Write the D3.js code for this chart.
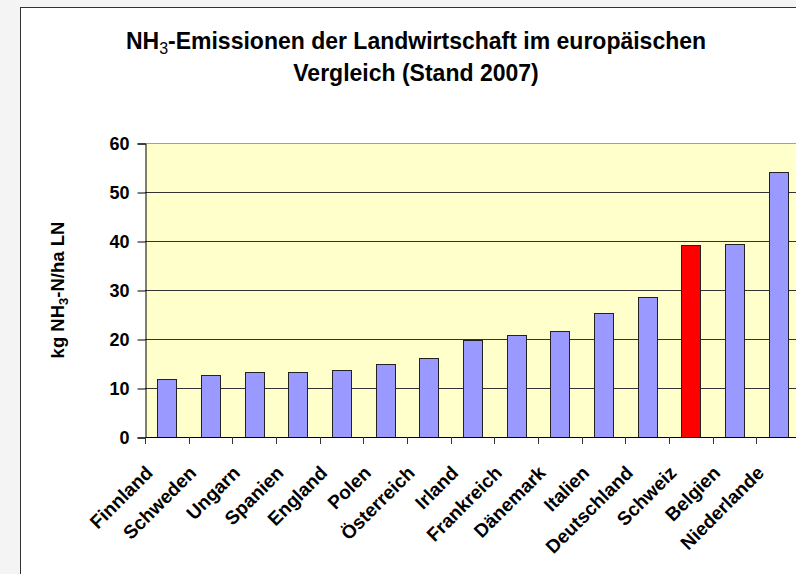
<!DOCTYPE html>
<html>
<head>
<meta charset="utf-8">
<script src="https://cdn.jsdelivr.net/npm/d3@7"></script>
<style>
  body { margin: 0; background: #f4f4f4; overflow: hidden; }
  text { font-family: "Liberation Sans", Arial, sans-serif; font-weight: bold; fill: #000; }
</style>
</head>
<body>
<script>
// Data (kg NH3-N per ha LN, 2007)
var countries = ["Finnland", "Schweden", "Ungarn", "Spanien", "England", "Polen", "Österreich",
  "Irland", "Frankreich", "Dänemark", "Italien", "Deutschland", "Schweiz", "Belgien", "Niederlande"];
var emissions = [11.8, 12.6, 13.3, 13.3, 13.7, 14.8, 16.1, 19.7, 20.8, 21.7, 25.4, 28.6, 39.2, 39.4, 54.0];
var highlight = "Schweiz";
var yTicks = [0, 10, 20, 30, 40, 50, 60];

var W = 796, H = 574;
var plot = {left: 145, top: 143, right: 800, bottom: 437};

var svg = d3.select("body").append("svg")
  .attr("width", W)
  .attr("height", H);

// chart frame
svg.append("rect")
  .attr("x", 20.5).attr("y", 7.5)
  .attr("width", W).attr("height", H)
  .attr("fill", "#fff")
  .attr("stroke", "#333");

// Set the ranges
var x = d3.scaleBand().domain(countries).range([plot.left, plot.right]).padding(0);
var y = d3.scaleLinear().domain([0, 60]).range([plot.bottom, plot.top]);

// plot background
svg.append("rect")
  .attr("x", plot.left).attr("y", plot.top)
  .attr("width", plot.right - plot.left).attr("height", plot.bottom - plot.top)
  .attr("fill", "#ffffcc");

// grid lines
svg.append("g").selectAll("line")
  .data(yTicks.filter(function(d) { return d > 0; }))
  .join("line")
  .attr("x1", plot.left).attr("x2", plot.right)
  .attr("y1", function(d) { return Math.round(y(d)) + 0.5; })
  .attr("y2", function(d) { return Math.round(y(d)) + 0.5; })
  .attr("stroke", function(d) { return d === 60 ? "#a0a0a0" : "#333"; });

// bars
var barW = x.bandwidth() * 0.435;
svg.append("g").selectAll("rect")
  .data(emissions)
  .join("rect")
  .attr("x", function(d, i) { return Math.round(x(countries[i]) + (x.bandwidth() - barW) / 2) + 0.5; })
  .attr("y", function(d) { return Math.round(y(d)) + 0.5; })
  .attr("width", Math.round(barW))
  .attr("height", function(d) { return Math.round(y(0)) - Math.round(y(d)); })
  .attr("fill", function(d, i) { return countries[i] === highlight ? "#ff0000" : "#9999ff"; })
  .attr("stroke", "#222")
  .attr("stroke-width", 1);

// Y axis
var yAxis = d3.axisLeft(y).tickValues(yTicks).tickSize(8).tickPadding(8);
var gy = svg.append("g")
  .attr("transform", "translate(" + (plot.left + 0.5) + ",0.5)")
  .call(yAxis);
gy.select(".domain").attr("stroke", "#000");
gy.selectAll(".tick line").attr("stroke", "#000");
gy.selectAll(".tick text")
  .style("font-size", "18px")
  .style("font-family", "Liberation Sans, Arial, sans-serif")
  .style("font-weight", "bold")
  .attr("dy", "0.36em");

// X axis: ticks on category boundaries
var xAxis = svg.append("g");
xAxis.append("line")
  .attr("x1", plot.left).attr("x2", plot.right)
  .attr("y1", Math.round(y(0)) + 0.5).attr("y2", Math.round(y(0)) + 0.5)
  .attr("stroke", "#000");
xAxis.selectAll(".xtick")
  .data(countries)
  .join("line")
  .attr("class", "xtick")
  .attr("x1", function(d) { return Math.round(x(d)) + 0.5; })
  .attr("x2", function(d) { return Math.round(x(d)) + 0.5; })
  .attr("y1", Math.round(y(0)))
  .attr("y2", Math.round(y(0)) + 7)
  .attr("stroke", "#333");

// rotated category labels
xAxis.selectAll(".xlabel")
  .data(countries)
  .join("text")
  .attr("class", "xlabel")
  .attr("text-anchor", "end")
  .style("font-size", "19px")
  .attr("transform", function(d) {
    var cx = x(d) + x.bandwidth() / 2 - 13;
    var cy = y(0) + 37;
    return "translate(" + cx + "," + cy + ") rotate(-45)";
  })
  .text(function(d) { return d; });

// Y axis title
var yt = svg.append("text")
  .attr("transform", "translate(64," + ((plot.top + plot.bottom) / 2) + ") rotate(-90)")
  .attr("text-anchor", "middle")
  .style("font-size", "18.5px");
yt.append("tspan").text("kg NH");
yt.append("tspan").attr("dy", 4).style("font-size", "13px").text("3");
yt.append("tspan").attr("dy", -4).text("-N/ha LN");

// Title
var t1 = svg.append("text")
  .attr("x", 416).attr("y", 49)
  .attr("text-anchor", "middle")
  .style("font-size", "23px");
t1.append("tspan").text("NH");
t1.append("tspan").attr("dy", 5).style("font-size", "16px").style("font-weight", "normal").text("3");
t1.append("tspan").attr("dy", -5).text("-Emissionen der Landwirtschaft im europäischen");

svg.append("text")
  .attr("x", 416).attr("y", 81)
  .attr("text-anchor", "middle")
  .style("font-size", "23px")
  .text("Vergleich (Stand 2007)");
</script>
</body>
</html>
